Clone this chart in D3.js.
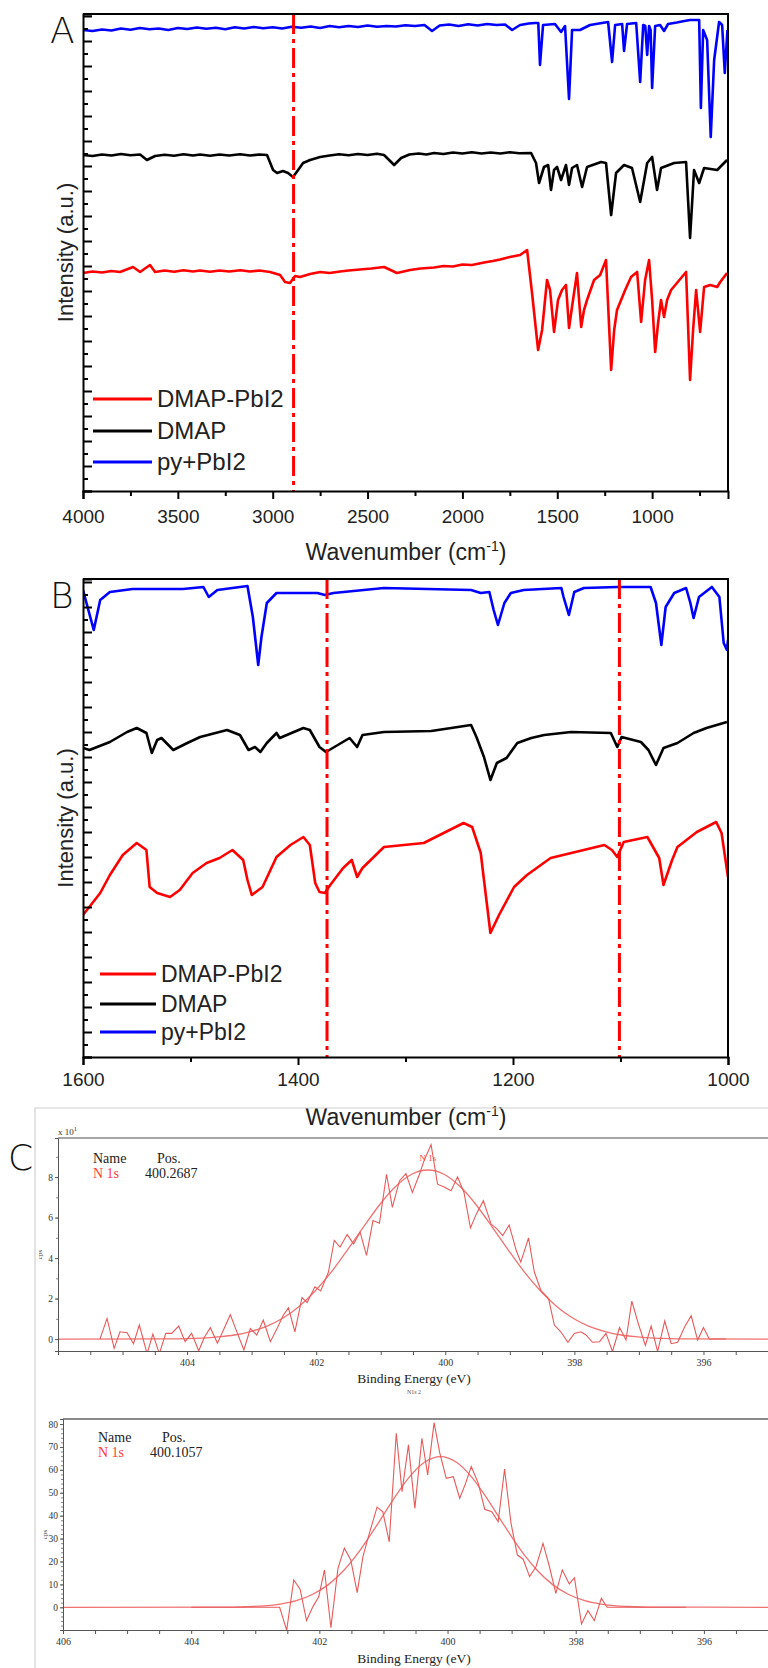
<!DOCTYPE html>
<html><head><meta charset="utf-8">
<script src="https://cdn.jsdelivr.net/npm/d3@7"></script>
<style>body{margin:0;background:#fff}svg{display:block}</style>
</head><body>
<svg id="c" width="768" height="1668"></svg>
<script>
// ---------- DATA ----------
const A_majorTicks = [4000,3500,3000,2500,2000,1500,1000];
const A_minorTicks = [3750,3250,2750,2250,1750,1250,750];
const B_majorTicks = [1600,1400,1200,1000];
const B_minorTicks = [1500,1300,1100];
const A_marks = [2890];
const B_marks = [1373,1101];
const legendNames = ["DMAP-PbI2","DMAP","py+PbI2"];
const legendColors = ["#ff0000","#000000","#0000ff"];

// Panel A  [wavenumber, intensity a.u.]
const A_py = [[4000,18.44],[3950,18.40],[3900,18.46],[3850,18.42],[3800,18.5],[3750,18.45],[3700,18.52],[3650,18.47],[3600,18.5],[3550,18.44],[3500,18.52],[3450,18.48],[3400,18.54],[3350,18.49],[3300,18.53],[3250,18.47],[3200,18.55],[3150,18.5],[3100,18.56],[3050,18.51],[3000,18.55],[2950,18.5],[2900,18.57],[2850,18.53],[2800,18.58],[2750,18.52],[2700,18.6],[2650,18.55],[2600,18.6],[2550,18.56],[2500,18.62],[2450,18.57],[2400,18.6],[2350,18.58],[2300,18.63],[2250,18.6],[2200,18.64],[2160,18.4],[2120,18.62],[2070,18.66],[2020,18.6],[1970,18.67],[1920,18.62],[1870,18.68],[1820,18.64],[1775,18.66],[1738,18.44],[1696,18.64],[1650,18.7],[1617,18.72],[1600,18.72],[1591,17.04],[1575,18.64],[1512,18.68],[1480,18.36],[1459,18.6],[1438,15.68],[1422,18.44],[1380,18.44],[1327,18.64],[1280,18.7],[1232,18.76],[1211,17.16],[1195,18.64],[1158,18.68],[1148,17.6],[1132,18.68],[1084,18.72],[1063,16.36],[1047,18.64],[1036,18.6],[1026,17.44],[1016,18.6],[1008,18.44],[1000,16.12],[984,18.6],[958,18.64],[937,18.4],[916,18.68],[870,18.74],[830,18.8],[800,18.84],[752,18.84],[743,15.32],[731,18.44],[710,18.04],[691,14.16],[673,17.24],[647,18.76],[631,18.64],[617,16.72],[603,18.44]];
const A_dmap = [[4000,13.44],[3950,13.4],[3900,13.46],[3850,13.42],[3800,13.48],[3750,13.43],[3699,13.46],[3663,13.24],[3620,13.4],[3570,13.45],[3520,13.41],[3470,13.47],[3420,13.42],[3383,13.46],[3330,13.41],[3280,13.46],[3230,13.42],[3172,13.47],[3120,13.42],[3070,13.46],[3030,13.44],[2998,12.84],[2977,12.72],[2946,12.8],[2919,12.72],[2893,12.56],[2866,12.84],[2840,13.12],[2803,13.24],[2750,13.36],[2700,13.42],[2650,13.47],[2600,13.43],[2550,13.48],[2500,13.44],[2450,13.49],[2413,13.44],[2360,13.04],[2323,13.32],[2280,13.46],[2230,13.5],[2190,13.46],[2149,13.52],[2100,13.48],[2050,13.54],[2000,13.5],[1950,13.55],[1900,13.5],[1850,13.54],[1800,13.5],[1750,13.55],[1700,13.51],[1638,13.52],[1612,13.12],[1596,12.32],[1570,12.96],[1548,13.04],[1533,12.04],[1517,12.84],[1501,12.96],[1480,12.44],[1454,13.04],[1438,12.24],[1422,12.92],[1396,13.04],[1369,12.16],[1343,12.96],[1269,13.16],[1243,13.12],[1216,11.04],[1190,12.72],[1148,13.04],[1106,12.92],[1063,11.56],[1026,13.12],[1000,13.36],[974,12.04],[953,12.92],[884,13.12],[821,13.16],[800,10.12],[779,12.84],[752,12.32],[726,12.92],[657,12.84],[605,13.24]];
const A_dmapPb = [[4000,8.72],[3950,8.78],[3900,8.74],[3850,8.8],[3805,8.76],[3736,8.96],[3699,8.76],[3647,9.04],[3620,8.76],[3570,8.82],[3520,8.77],[3470,8.83],[3420,8.78],[3383,8.82],[3330,8.77],[3280,8.82],[3230,8.78],[3170,8.83],[3120,8.78],[3070,8.82],[3014,8.76],[2961,8.64],[2935,8.36],[2909,8.32],[2882,8.6],[2856,8.56],[2803,8.68],[2750,8.76],[2700,8.72],[2645,8.78],[2600,8.82],[2540,8.86],[2480,8.9],[2413,8.96],[2345,8.72],[2276,8.84],[2220,8.9],[2149,8.94],[2100,9.0],[2050,8.98],[2000,9.06],[1950,9.04],[1886,9.14],[1840,9.2],[1801,9.26],[1750,9.36],[1696,9.44],[1659,9.64],[1633,7.92],[1601,5.64],[1580,6.44],[1554,8.44],[1538,8.04],[1517,6.36],[1496,7.64],[1475,8.04],[1454,8.24],[1438,6.52],[1417,7.64],[1396,8.72],[1374,6.56],[1359,7.24],[1343,7.64],[1306,8.44],[1274,8.64],[1243,9.24],[1216,4.84],[1200,6.44],[1185,7.24],[1142,8.04],[1111,8.56],[1079,8.76],[1058,6.76],[1037,8.44],[1016,9.24],[1000,7.64],[984,5.56],[968,6.76],[953,7.64],[937,6.96],[921,7.64],[900,8.04],[821,8.76],[800,4.44],[784,6.44],[768,8.04],[747,6.36],[726,8.16],[694,8.24],[657,8.16],[641,8.36],[605,8.72]];

// Panel B
const B_py = [[1600,18.68],[1590,17.08],[1584,18.28],[1575,18.6],[1554,18.72],[1507,18.72],[1488,18.8],[1483,18.4],[1475,18.68],[1447,18.84],[1442,17.6],[1437,15.68],[1434,16.8],[1429,18.16],[1420,18.56],[1382,18.56],[1375,18.48],[1367,18.56],[1320,18.76],[1239,18.68],[1230,18.56],[1222,18.6],[1218,17.88],[1214,17.28],[1208,18.16],[1202,18.56],[1190,18.68],[1155,18.76],[1153,18.4],[1148,17.68],[1143,18.6],[1134,18.76],[1103,18.8],[1072,18.8],[1067,18.16],[1062,16.48],[1058,18.0],[1050,18.56],[1039,18.76],[1035,18.16],[1032,17.56],[1027,18.4],[1015,18.8],[1008,18.4],[1004,16.56],[1001,16.28],[1000,16.68]];
const B_dmap = [[1600,12.36],[1594,12.28],[1575,12.6],[1559,13.0],[1550,13.16],[1541,12.96],[1536,12.16],[1531,12.68],[1527,12.76],[1516,12.28],[1503,12.56],[1491,12.8],[1466,13.08],[1454,12.88],[1446,12.28],[1440,12.4],[1435,12.2],[1429,12.56],[1420,12.96],[1417,12.76],[1395,13.16],[1389,13.08],[1380,12.4],[1374,12.2],[1352,12.76],[1345,12.4],[1340,12.88],[1320,13.0],[1276,13.04],[1239,13.28],[1234,12.8],[1227,12.0],[1221,11.08],[1215,11.76],[1206,11.96],[1196,12.56],[1183,12.76],[1171,12.88],[1146,13.0],[1109,12.96],[1103,12.4],[1099,12.8],[1081,12.6],[1074,12.28],[1067,11.68],[1060,12.36],[1047,12.56],[1032,12.96],[1020,13.16],[1001,13.4]];
const B_dmapPb = [[1600,5.68],[1584,6.56],[1575,7.28],[1563,8.08],[1550,8.56],[1541,8.28],[1538,6.8],[1531,6.56],[1519,6.4],[1510,6.68],[1498,7.36],[1485,7.76],[1473,7.96],[1461,8.28],[1451,7.88],[1447,7.08],[1443,6.48],[1433,6.8],[1420,8.0],[1407,8.48],[1395,8.8],[1389,8.48],[1387,7.88],[1384,6.96],[1380,6.6],[1375,6.56],[1370,6.88],[1358,7.56],[1350,7.88],[1345,7.2],[1340,7.56],[1320,8.4],[1283,8.56],[1246,9.36],[1238,9.2],[1230,8.16],[1227,7.08],[1221,4.96],[1213,5.68],[1199,6.8],[1187,7.28],[1165,7.96],[1115,8.48],[1108,8.28],[1103,8.0],[1097,8.6],[1075,8.8],[1064,7.96],[1060,6.88],[1052,7.88],[1047,8.4],[1029,9.0],[1011,9.4],[1006,8.96],[1000,7.2]];

// Panel C (XPS N 1s)  [binding energy eV, cps]
const C1_labels = {name:"N 1s", pos:"400.2687"};
const C2_labels = {name:"N 1s", pos:"400.1057"};
const C1_xLabels = [404,402,400,398,396];
const C2_xLabels = [406,404,402,400,398,396];
const C1_yLabels = [0,2,4,6,8];
const C2_yLabels = [0,10,20,30,40,50,60,70,80];
const C1_raw = [[405.35,0],[405.24,1.02],[405.13,-0.46],[405.04,0.36],[404.93,0.31],[404.83,-0.23],[404.74,0.69],[404.62,-0.72],[404.53,0.25],[404.43,-0.72],[404.33,0.28],[404.24,0.28],[404.13,0.64],[404.03,-0.13],[403.93,0.28],[403.82,-0.58],[403.73,0.1],[403.64,0.56],[403.53,-0.2],[403.43,0.5],[403.33,1.2],[403.22,0.28],[403.12,-0.54],[403.02,0.52],[402.92,0.2],[402.82,0.94],[402.71,-0.13],[402.61,0.5],[402.51,1.18],[402.43,1.54],[402.33,0.36],[402.22,2.05],[402.14,1.8],[402.02,2.58],[401.93,2.38],[401.81,3.31],[401.72,4.87],[401.63,4.54],[401.52,5.16],[401.42,4.7],[401.32,5.28],[401.22,4.13],[401.12,5.85],[401.02,5.72],[400.91,8.14],[400.82,6.5],[400.71,7.81],[400.61,8.17],[400.51,7.24],[400.40,8.14],[400.33,8.8],[400.22,9.6],[400.12,7.65],[400.01,7.5],[399.91,7.32],[399.81,8.01],[399.71,7.24],[399.61,5.49],[399.52,6.17],[399.41,6.83],[399.29,5.68],[399.20,5.44],[399.11,5.11],[399.01,5.63],[398.90,4.37],[398.83,3.8],[398.71,5.0],[398.62,3.31],[398.52,2.41],[398.40,2.0],[398.31,0.69],[398.21,0.36],[398.10,-0.16],[398.0,0.28],[397.90,0.36],[397.82,0.2],[397.72,-0.16],[397.61,-0.13],[397.51,0.28],[397.41,-0.62],[397.30,0.57],[397.20,-0.05],[397.11,1.87],[397.01,0.77],[396.90,-0.31],[396.81,0.64],[396.71,-0.62],[396.60,0.89],[396.50,-0.23],[396.40,-0.16],[396.29,0.61],[396.19,1.15],[396.09,-0.05],[396.0,0.57],[395.91,0],[395.65,0]];
const C1_fit = [[406,0],[404.27,0.01],[404.02,0.02],[403.77,0.05],[403.52,0.11],[403.27,0.20],[403.02,0.37],[402.77,0.63],[402.52,1.03],[402.27,1.60],[402.02,2.36],[401.77,3.29],[401.52,4.38],[401.27,5.52],[401.02,6.62],[400.77,7.53],[400.52,8.14],[400.27,8.35],[400.02,8.14],[399.77,7.53],[399.52,6.62],[399.27,5.52],[399.02,4.38],[398.77,3.29],[398.52,2.36],[398.27,1.60],[398.02,1.03],[397.77,0.63],[397.52,0.37],[397.27,0.20],[397.02,0.11],[396.77,0.05],[396.52,0.02],[396.27,0.01],[395,0]];
const C2_raw = [[404.0,0],[402.62,0],[402.51,-10],[402.40,11.9],[402.30,7.9],[402.20,-5.8],[402.10,0.3],[402.01,4.6],[401.92,16.3],[401.82,-8.9],[401.71,17],[401.61,25.8],[401.51,20.7],[401.41,6.4],[401.32,22.1],[401.22,32.3],[401.10,43.7],[401.01,41.7],[400.91,28.6],[400.80,76],[400.71,50.5],[400.61,70.9],[400.51,43.2],[400.40,73.8],[400.31,57.8],[400.21,80.6],[400.12,67.2],[400.02,56.3],[399.91,57],[399.81,47.6],[399.72,54],[399.63,61.4],[399.52,54.1],[399.42,42.8],[399.31,41.7],[399.21,37.4],[399.11,60.3],[399.01,36.7],[398.91,22.8],[398.82,21],[398.72,13.4],[398.62,17.7],[398.51,27.9],[398.41,17.7],[398.31,6.1],[398.21,16.3],[398.10,10.2],[398.02,12.9],[397.91,-7.3],[397.81,-1.5],[397.71,-5.8],[397.60,3.9],[397.51,0],[396.28,0]];
const C2_fit = [[406,0],[403.36,0.1],[403.11,0.3],[402.86,0.6],[402.61,1.4],[402.36,2.9],[402.11,5.6],[401.86,9.9],[401.61,16.4],[401.36,25.1],[401.11,35.5],[400.86,46.5],[400.61,56.4],[400.36,63.3],[400.11,65.8],[399.86,63.3],[399.61,56.4],[399.36,46.5],[399.11,35.5],[398.86,25.1],[398.61,16.4],[398.36,9.9],[398.11,5.6],[397.86,2.9],[397.61,1.4],[397.36,0.6],[397.11,0.3],[396.86,0.1],[395,0]];

// ---------- DRAW ----------
const svg = d3.select('#c');
svg.append('rect').attr('width',768).attr('height',1668).attr('fill','#fff');
const SANS = "'Liberation Sans', Arial, sans-serif";
const SERIF = "'Liberation Serif', 'Times New Roman', serif";

function styleAxis(sel, w, col){
  sel.select('.domain').attr('stroke',col).attr('stroke-width',w);
  sel.selectAll('.tick line').attr('stroke',col).attr('stroke-width',w);
}

function irPanel(o){
  const L=83,R=728;
  const x = d3.scaleLinear().domain(o.xDomain).range([L,R]);
  const y = d3.scaleLinear().domain([0,o.yMax]).range([o.bottom,o.top]);
  const g = svg.append('g');
  const cid='clip'+o.id;
  svg.append('clipPath').attr('id',cid).append('rect').attr('x',L).attr('y',o.top).attr('width',R-L).attr('height',o.bottom-o.top);
  const line = d3.line().x(d=>x(d[0])).y(d=>y(d[1]));
  o.series.forEach((s,i)=>{
    g.append('path').datum(s).attr('d',line).attr('fill','none')
      .attr('stroke',legendColors[i]).attr('stroke-width',2.6)
      .attr('stroke-linejoin','round').attr('clip-path',`url(#${cid})`);
  });
  o.marks.forEach(v=>{
    g.append('line').attr('x1',x(v)).attr('x2',x(v)).attr('y1',o.top).attr('y2',o.bottom)
      .attr('stroke','#ff0000').attr('stroke-width',3).attr('stroke-dasharray','20,5,4,5');
  });
  g.append('path').attr('d',`M${L},${o.top}H${R}V${o.bottom}`).attr('fill','none').attr('stroke','#000').attr('stroke-width',2);
  const xa = g.append('g').attr('transform',`translate(0,${o.bottom})`)
    .call(d3.axisBottom(x).tickValues(o.xMajor).tickSize(8).tickPadding(o.tickPad).tickFormat(d3.format('d')));
  styleAxis(xa,2,'#000');
  xa.selectAll('text').attr('font-family',SANS).attr('font-size',19).attr('fill','#222');
  const xm = g.append('g').attr('transform',`translate(0,${o.bottom})`)
    .call(d3.axisBottom(x).tickValues(o.xMinor).tickSize(5).tickFormat(''));
  xm.select('.domain').remove(); styleAxis(xm,2,'#000');
  const ya = g.append('g').attr('transform',`translate(${L},0)`)
    .call(d3.axisLeft(y).tickValues(d3.range(0,Math.floor(o.yMax)+1,1)).tickSize(-9).tickFormat(''));
  styleAxis(ya,2,'#000');
  const ym = g.append('g').attr('transform',`translate(${L},0)`)
    .call(d3.axisLeft(y).tickValues(d3.range(0.5,o.yMax,1)).tickSize(-5).tickFormat(''));
  ym.select('.domain').remove(); styleAxis(ym,2,'#000');
  const t = g.append('text').attr('x',406).attr('y',o.titleY).attr('text-anchor','middle')
    .attr('font-family',SANS).attr('font-size',23).attr('fill','#222');
  t.append('tspan').text('Wavenumber (cm');
  t.append('tspan').attr('font-size',14).attr('dy',-9).text('-1');
  t.append('tspan').attr('dy',9).text(')');
  g.append('text').attr('transform',`translate(73,${(o.top+o.bottom)/2}) rotate(-90)`)
    .attr('text-anchor','middle').attr('font-family',SANS).attr('font-size',22).attr('fill','#222')
    .text('Intensity (a.u.)');
  g.append('text').attr('x',50).attr('y',o.letterY).attr('font-family',"'DejaVu Sans', sans-serif")
    .attr('font-weight',200).attr('font-size',36).attr('fill','#111').text(o.letter);
  legendNames.forEach((n,i)=>{
    const ly = o.legY[i];
    g.append('line').attr('x1',o.legX0).attr('x2',o.legX1).attr('y1',ly).attr('y2',ly)
      .attr('stroke',legendColors[i]).attr('stroke-width',3);
    g.append('text').attr('x',o.legX1+5).attr('y',ly).attr('dy','0.35em')
      .attr('font-family',SANS).attr('font-size',o.legFont).attr('fill','#222').text(n);
  });
}

irPanel({id:'A', xDomain:[4000,600], yMax:19.08, top:14, bottom:491,
  series:[A_dmapPb,A_dmap,A_py], marks:A_marks, xMajor:A_majorTicks, xMinor:A_minorTicks,
  tickPad:11, titleY:560, letterY:43, letter:'A', legX0:93, legX1:152, legY:[399,431,462], legFont:24});
irPanel({id:'B', xDomain:[1600,1000], yMax:19.12, top:579, bottom:1057,
  series:[B_dmapPb,B_dmap,B_py], marks:B_marks, xMajor:B_majorTicks, xMinor:B_minorTicks,
  tickPad:8, titleY:1125, letterY:608, letter:'B', legX0:100, legX1:156, legY:[974,1004,1032], legFont:23});

svg.append('path').attr('d','M35,1668V1108H768').attr('fill','none').attr('stroke','#d0d0d0').attr('stroke-width',1.2);
svg.append('text').attr('x',8).attr('y',1170).attr('font-family',"'DejaVu Sans', sans-serif")
  .attr('font-weight',200).attr('font-size',36).attr('fill','#111').text('C');

function xpsPanel(o){
  const x = d3.scaleLinear().domain([406,395]).range([o.left,768]);
  const y = d3.scaleLinear().domain(o.yDomain).range([o.bottom,o.top]);
  const g = svg.append('g');
  const cid='clip'+o.id;
  svg.append('clipPath').attr('id',cid).append('rect').attr('x',o.left).attr('y',o.top).attr('width',768-o.left).attr('height',o.bottom-o.top);
  g.append('line').attr('x1',o.left).attr('x2',768).attr('y1',o.top).attr('y2',o.top)
    .attr('stroke','#8a8a8a').attr('stroke-width',o.topW);
  const line = d3.line().x(d=>x(d[0])).y(d=>y(d[1]));
  g.append('path').datum(o.fit).attr('d',line.curve(d3.curveMonotoneX)).attr('fill','none')
    .attr('stroke','#f07272').attr('stroke-width',1.3).attr('clip-path',`url(#${cid})`);
  g.append('path').datum(o.raw).attr('d',d3.line().x(d=>x(d[0])).y(d=>y(d[1]))).attr('fill','none')
    .attr('stroke','#e85a5a').attr('stroke-width',1.1).attr('clip-path',`url(#${cid})`);
  const xa = g.append('g').attr('transform',`translate(0,${o.bottom})`)
    .call(d3.axisBottom(x).tickValues(d3.range(395.5,406.01,0.5)).tickSize(4).tickPadding(4)
      .tickFormat(d=> o.xLabels.includes(d)? d3.format('d')(d):''));
  styleAxis(xa,1,'#555');
  xa.selectAll('text').attr('font-family',SERIF).attr('font-size',10).attr('fill','#333');
  const ya = g.append('g').attr('transform',`translate(${o.left},0)`)
    .call(d3.axisLeft(y).tickValues(o.yLabels).tickSize(3).tickPadding(2).tickFormat(d3.format('d')));
  styleAxis(ya,1,'#555');
  ya.selectAll('text').attr('font-family',SERIF).attr('font-size',9.5).attr('fill','#333');
  const ym = g.append('g').attr('transform',`translate(${o.left},0)`)
    .call(d3.axisLeft(y).tickValues(o.yMinor).tickSize(2).tickFormat(''));
  ym.select('.domain').remove(); styleAxis(ym,0.8,'#666');
  g.append('text').attr('x',o.left-16).attr('y',(o.top+o.bottom)/2+10)
    .attr('transform',`rotate(-90,${o.left-16},${(o.top+o.bottom)/2+10})`)
    .attr('font-family',SERIF).attr('font-size',7).attr('fill','#444').attr('text-anchor','middle').text('cps');
  g.append('text').attr('x',o.nameX).attr('y',o.nameY).attr('font-family',SERIF).attr('font-size',14).attr('fill','#222').text('Name');
  g.append('text').attr('x',o.nameX+64).attr('y',o.nameY).attr('font-family',SERIF).attr('font-size',14).attr('fill','#222').text('Pos.');
  g.append('text').attr('x',o.nameX).attr('y',o.nameY+15).attr('font-family',SERIF).attr('font-size',14).attr('fill','#ff3b3b').text(o.lab.name);
  g.append('text').attr('x',o.nameX+52).attr('y',o.nameY+15).attr('font-family',SERIF).attr('font-size',14).attr('fill','#222').text(o.lab.pos);
  g.append('text').attr('x',414).attr('y',o.bottom+o.titleDy).attr('text-anchor','middle')
    .attr('font-family',SERIF).attr('font-size',13.5).attr('fill','#222').text('Binding Energy (eV)');
  return {x,y,g};
}

const c1 = xpsPanel({id:'C1', left:58, top:1138, bottom:1351, topW:1.5, yDomain:[-0.59,9.93],
  raw:C1_raw, fit:C1_fit, xLabels:C1_xLabels, yLabels:C1_yLabels, yMinor:d3.range(0,10,1),
  nameX:93, nameY:1163, lab:C1_labels, titleDy:32});
c1.g.append('text').attr('x',c1.x(400.27)).attr('y',1161).attr('text-anchor','middle')
  .attr('font-family',SERIF).attr('font-size',9).attr('fill','#ff4040').text('N 1s');
c1.g.append('text').attr('x',414).attr('y',1394).attr('text-anchor','middle')
  .attr('font-family',SERIF).attr('font-size',6).attr('fill','#555').text('N1s 2');
const xt = c1.g.append('text').attr('x',58).attr('y',1135).attr('font-family',SERIF).attr('font-size',9).attr('fill','#333');
xt.append('tspan').text('x 10');
xt.append('tspan').attr('dy',-4).attr('font-size',6.5).text('1');

xpsPanel({id:'C2', left:63, top:1419, bottom:1630, topW:2, yDomain:[-9.91,82.2],
  raw:C2_raw, fit:C2_fit, xLabels:C2_xLabels, yLabels:C2_yLabels, yMinor:d3.range(-8,82,2),
  nameX:98, nameY:1442, lab:C2_labels, titleDy:33});
</script>
</body></html>
